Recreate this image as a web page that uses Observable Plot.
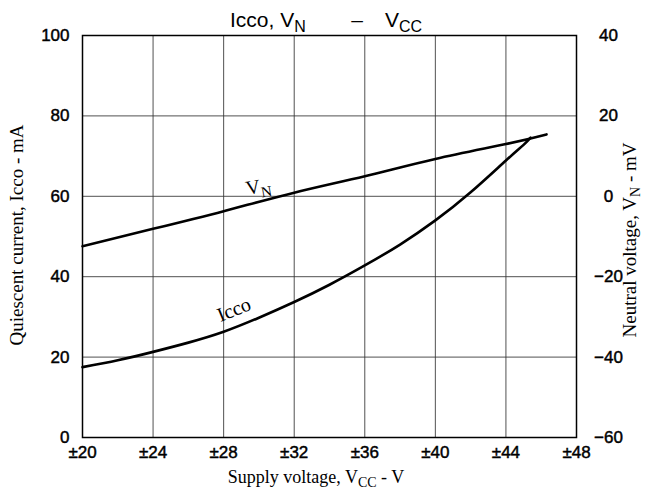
<!DOCTYPE html>
<html><head><meta charset="utf-8">
<script src="https://cdn.jsdelivr.net/npm/d3@7"></script>
<script src="https://cdn.jsdelivr.net/npm/@observablehq/plot@0.6"></script>
<style>body{margin:0;background:#fff} svg{display:block}</style>
</head><body><div id="chart"></div>
<script>
// ---- data ----
const xTicks = [20, 24, 28, 32, 36, 40, 44, 48];           // supply voltage ±V
const yLeftTicks = [0, 20, 40, 60, 80, 100];               // Icco, mA
const yRightTicks = [-60, -40, -20, 0, 20, 40];            // VN, mV
const vnOffset = 60;                                       // right axis -60..40 shares the left 0..100 grid

const vnVcc = [20, 24, 28, 32, 36, 40, 44, 46.3];
const vnMilliVolts = [-12.4, -8.1, -3.7, 0.9, 5.0, 9.3, 13.0, 15.4];

const iccoVcc = [20, 22, 24, 26, 28, 30, 32, 34, 36, 38, 40, 42, 44, 45, 45.4];
const iccoMilliAmps = [17.5, 19.2, 21.3, 23.6, 26.3, 29.8, 33.7, 38.0, 42.8, 48.0, 54.0, 61.0, 68.9, 72.8, 74.6];

const vnData = vnVcc.map((v, i) => ({vcc: v, vn: vnMilliVolts[i]}));
const iccoData = iccoVcc.map((v, i) => ({vcc: v, icco: iccoMilliAmps[i]}));

const fmtMinus = v => v < 0 ? "\u2212" + (-v) : String(v);

const chart = Plot.plot({
  width: 645, height: 496,
  marginTop: 35, marginBottom: 59, marginLeft: 82, marginRight: 69,
  x: {domain: [20, 48]},
  y: {domain: [0, 100]},
  style: {fontFamily: "'Liberation Sans', Arial, sans-serif", fontSize: "17px", color: "#000", background: "#fff"},
  marks: [
    Plot.gridX(xTicks, {stroke: "#333", strokeOpacity: 0.85, strokeWidth: 1}),
    Plot.gridY(yLeftTicks, {stroke: "#333", strokeOpacity: 0.85, strokeWidth: 1}),
    Plot.frame({stroke: "#000", strokeWidth: 1.5}),
    Plot.axisY(yLeftTicks, {anchor: "left", tickSize: 0, tickPadding: 13, label: null, fontSize: 17}),
    Plot.axisY(yRightTicks.map(v => v + vnOffset), {anchor: "right", tickSize: 0, tickPadding: 32, textAnchor: "middle",
      tickFormat: d => fmtMinus(d - vnOffset), label: null, fontSize: 17}),
    Plot.axisX(xTicks, {anchor: "bottom", tickSize: 0, tickPadding: 8, tickFormat: d => "\u00b1" + d, label: null, fontSize: 17}),
    Plot.line(vnData, {x: "vcc", y: d => d.vn + vnOffset, stroke: "#000", strokeWidth: 2.6, curve: "natural"}),
    Plot.line(iccoData, {x: "vcc", y: "icco", stroke: "#000", strokeWidth: 2.6, curve: "natural"})
  ]
});
document.getElementById("chart").append(chart);

const svg = d3.select(chart);
// slightly heavier tick labels, as in the reference
svg.selectAll("g[aria-label$='tick label'] text").attr("stroke", "#000").attr("stroke-width", 0.45);

const xs = chart.scale("x"), ys = chart.scale("y");
const serif = "'Liberation Serif', 'Times New Roman', serif";
const sans = "'Liberation Sans', Arial, sans-serif";

function addText(parts, x, y, opts) {
  const t = svg.append("text").attr("x", x).attr("y", y)
    .attr("font-family", opts.family).attr("font-size", opts.size)
    .attr("text-anchor", opts.anchor || "start").attr("fill", "#000");
  if (opts.rotate != null) t.attr("transform", `rotate(${opts.rotate},${x},${y})`);
  parts.forEach(p => {
    const s = t.append("tspan").text(p.t);
    if (p.sub) s.attr("font-size", opts.subSize).attr("baseline-shift", "-30%");
  });
  return t;
}

// title
addText([{t: "Icco, V"}, {t: "N", sub: true}], 230, 27, {family: sans, size: 21, subSize: 16});
addText([{t: "\u2013"}], 357, 27, {family: sans, size: 21, anchor: "middle"});
addText([{t: "V"}, {t: "CC", sub: true}], 385, 27, {family: sans, size: 21, subSize: 16});

// axis titles
addText([{t: "Quiescent current, Icco - mA"}], 23, 235, {family: serif, size: 19, anchor: "middle", rotate: -90});
addText([{t: "Neutral voltage, V"}, {t: "N", sub: true}, {t: " - mV"}], 636, 240, {family: serif, size: 19, subSize: 14, anchor: "middle", rotate: -90});
addText([{t: "Supply voltage, V"}, {t: "CC", sub: true}, {t: " - V"}], 316, 483, {family: serif, size: 18, subSize: 14, anchor: "middle"});

// curve labels (positions in data units)
const vnLabel = {vcc: 29.35, value: 60.2};
const iccoLabel = {vcc: 27.85, value: 28.6};
addText([{t: "V"}, {t: "N", sub: true}], xs.apply(vnLabel.vcc), ys.apply(vnLabel.value), {family: serif, size: 20, subSize: 15, rotate: -10});
addText([{t: "Icco"}], xs.apply(iccoLabel.vcc), ys.apply(iccoLabel.value), {family: serif, size: 20, rotate: -22});
</script></body></html>
